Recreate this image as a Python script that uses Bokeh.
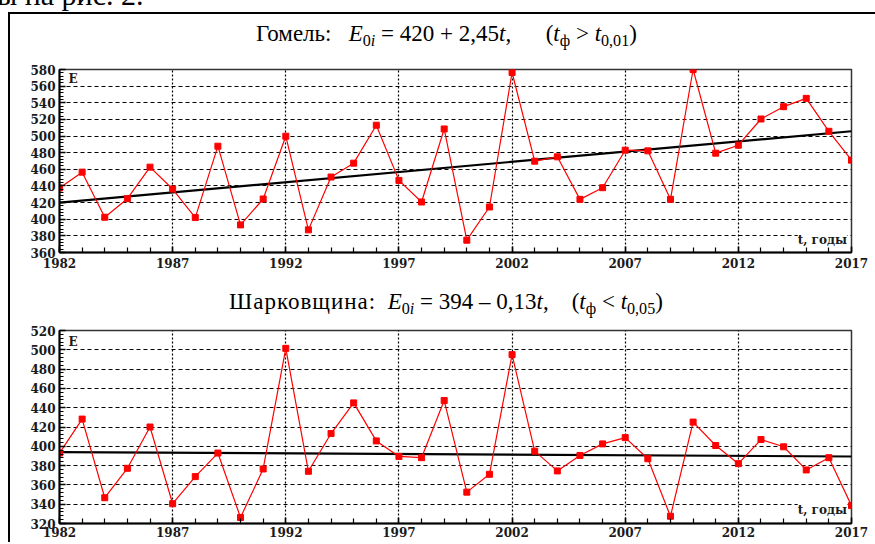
from bokeh.plotting import figure
from bokeh.models import Range1d, FixedTicker, SingleIntervalTicker, Label, Div, Spacer
from bokeh.layouts import column, row
from bokeh.embed import file_html
from bokeh.resources import INLINE

years = list(range(1982, 2018))
x_ticks = [1982, 1987, 1992, 1997, 2002, 2007, 2012, 2017]

gomel = [437.5, 456.6, 402.4, 424.7, 462.6, 436.3, 402.0, 487.8, 393.2, 424.3,
         499.8, 387.2, 450.7, 467.4, 513.0, 446.7, 420.7, 508.5, 374.8, 414.7,
         576.4, 469.8, 475.0, 423.9, 437.9, 483.0, 482.2, 423.9, 580.0, 479.4,
         489.0, 520.5, 535.3, 545.3, 505.7, 471.0]
sharkov = [393.0, 428.2, 346.7, 377.2, 420.0, 340.5, 368.6, 393.0, 326.2, 376.5,
           501.5, 374.1, 413.2, 445.0, 405.6, 389.5, 388.2, 447.4, 352.5, 371.0,
           495.0, 395.0, 374.5, 390.5, 402.5, 409.0, 387.1, 327.5, 425.1, 400.8,
           382.0, 407.0, 399.5, 375.5, 388.2, 338.5]

gomel_trend = (420.0, 2.45)
sharkov_trend = (394.0, -0.13)

SUB = '<sub style="font-size:70%;vertical-align:-0.32em;line-height:0">'
SP = "&nbsp;"
BOX = {"position": "relative", "overflow": "hidden"}


def num(v):
    return f"{abs(v):g}".replace(".", ",")


def title_html(name, trend, gap, gap2, rel, lvl, left, top, ls):
    a, b = trend
    sign = "+" if b >= 0 else "–"
    body = (f'<span style="letter-spacing:{ls}px">{name}:</span>{SP * gap}'
            f"<i>E</i>{SUB}0<i>i</i></sub> = {num(a)} {sign} {num(b)}<i>t</i>,"
            f"{SP * gap2}(<i>t</i>{SUB}ф</sub> {rel} <i>t</i>{SUB}{lvl}</sub>)")
    return (f'<div style="position:absolute;left:{left}px;top:{top}px;white-space:nowrap;'
            f"font-family:'Liberation Serif';font-size:23px;line-height:23px;color:black\">"
            f"{body}</div>")


def make_plot(vals, trend, ylo, yhi, height, bbot, e_y, t_y, standoff):
    p = figure(width=860, height=height, x_range=Range1d(1982, 2017),
               y_range=Range1d(ylo, yhi), output_backend="svg", toolbar_location=None,
               min_border_left=49, min_border_right=19, min_border_top=5,
               min_border_bottom=bbot, background_fill_color="white",
               border_fill_color="white", margin=0)
    p.outline_line_color = "#333333"
    p.outline_line_width = 1.5
    p.xaxis.ticker = FixedTicker(ticks=x_ticks, minor_ticks=years)
    p.yaxis.ticker = SingleIntervalTicker(interval=20, num_minor_ticks=5)
    for ax in (p.xaxis[0], p.yaxis[0]):
        ax.axis_line_color = "black"
        ax.axis_line_width = 2
        ax.major_tick_in = 6
        ax.major_tick_out = 0
        ax.minor_tick_in = 4
        ax.minor_tick_out = 0
        ax.major_tick_line_color = "black"
        ax.minor_tick_line_color = "black"
        ax.major_tick_line_width = 1.5
        ax.minor_tick_line_width = 1.2
        ax.major_label_text_font = "DejaVu Serif"
        ax.major_label_text_font_style = "bold"
        ax.major_label_text_font_size = "12px"
        ax.major_label_text_color = "#1a1a1a"
    p.xaxis.minor_tick_in = 5
    p.xaxis.major_label_standoff = standoff
    p.yaxis.major_label_standoff = 4
    p.xgrid.grid_line_color = "black"
    p.xgrid.grid_line_dash = "2 2"
    p.xgrid.grid_line_width = 1.2
    p.ygrid.grid_line_color = "black"
    p.ygrid.grid_line_dash = "4 3"
    p.ygrid.grid_line_width = 1

    a, b = trend
    tx = [years[0], years[-1]]
    ty = [a + b * (yr - years[0]) for yr in tx]
    p.line(tx, ty, line_color="black", line_width=2.2)
    p.line(years, vals, line_color="#ff0000", line_width=1.2)
    p.scatter(years, vals, marker="square", size=6, color="#ff0000")

    p.add_layout(Label(x=1982.4, y=e_y, text="E", text_font="DejaVu Serif",
                       text_font_style="bold", text_font_size="12px", text_color="#1a1a1a",
                       text_baseline="middle", text_align="left",
                       background_fill_color="white"))
    p.add_layout(Label(x=2016.8, y=t_y, text="t, годы", text_font="DejaVu Serif",
                       text_font_style="bold", text_font_size="12px", text_color="#1a1a1a",
                       text_baseline="middle", text_align="right",
                       background_fill_color="white"))
    return p


p1 = make_plot(gomel, gomel_trend, 360, 580, 208, 20, 569, 375.6, 5)
p2 = make_plot(sharkov, sharkov_trend, 320, 520, 217, 19, 508, 333.5, 3)

div0 = Div(text=('<div style="position:absolute;left:-19px;top:-20px;white-space:nowrap;'
                 "font-family:'Liberation Serif';font-size:30px;line-height:30px;color:black\">"
                 "ны на рис. 2.</div>"),
           width=875, height=12, styles=BOX, margin=0)
div1 = Div(text=title_html("Гомель", gomel_trend, 3, 6, "&gt;", "0,01", 246, 8, 0),
           width=860, height=50, styles=BOX, margin=0)
div2 = Div(text=title_html("Шарковщина", sharkov_trend, 2, 4, "&lt;", "0,05", 219, 18, 1),
           width=860, height=53, styles=BOX, margin=0)

hline = Div(text="", width=865, height=2, styles={"background-color": "black"}, margin=0)
vline = Div(text="", width=2, height=530, styles={"background-color": "black"}, margin=0)

inner = column(hline, div1, p1, div2, p2, margin=0, spacing=0)
layout = column(div0, row(Spacer(width=8, height=530, margin=0), vline, inner,
                          margin=0, spacing=0),
                margin=0, spacing=0)

open("out.html", "w").write(file_html(layout, INLINE))
